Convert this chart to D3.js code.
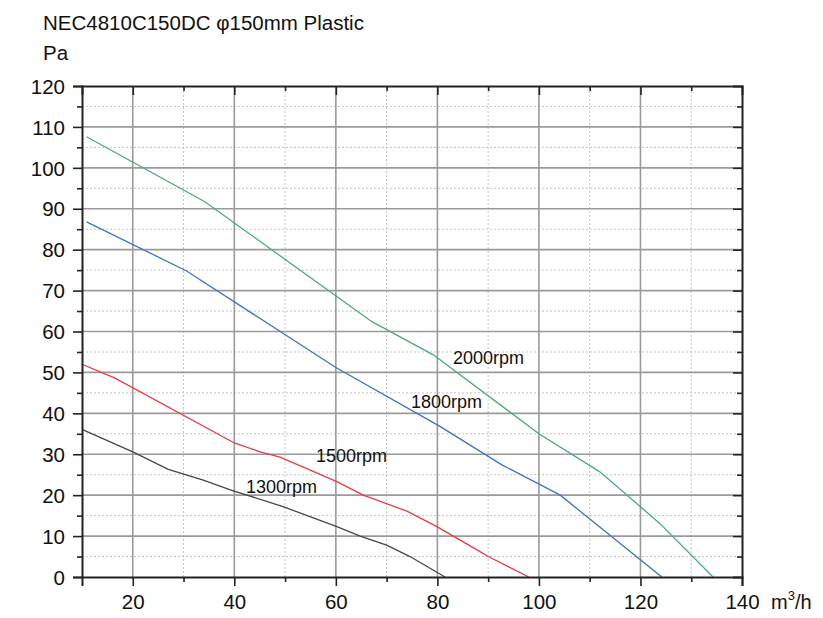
<!DOCTYPE html>
<html><head><meta charset="utf-8">
<script src="https://cdn.jsdelivr.net/npm/d3@7"></script>
<style>body{margin:0;background:#fff}svg{display:block;font-family:"Liberation Sans",Arial,sans-serif}</style>
</head><body><svg id="c" width="823" height="618"></svg>
<script>
const title = "NEC4810C150DC φ150mm Plastic";
const yUnit = "Pa";
const xTicks = [20, 40, 60, 80, 100, 120, 140];
const yTicks = [0, 10, 20, 30, 40, 50, 60, 70, 80, 90, 100, 110, 120];
const seriesNames = ["2000rpm", "1800rpm", "1500rpm", "1300rpm"];
const flow2000 = [10.9, 34.2, 67.1, 79.2, 100, 112, 123.8, 134.3];
const press2000 = [107.6, 91.7, 62.4, 54.3, 35, 25.7, 13.1, 0];
const flow1800 = [10.9, 30.6, 60, 80.5, 92.7, 104.2, 124.2];
const press1800 = [86.8, 74.8, 51.2, 36.8, 27.4, 20, 0];
const flow1500 = [10, 16.5, 40.1, 45.1, 49, 60.2, 65.4, 74, 79.9, 88.4, 90, 98];
const press1500 = [52, 48.6, 32.7, 30.6, 29.3, 23.3, 20, 16.1, 12.3, 6.2, 5, 0];
const flow1300 = [10, 20, 27, 33.9, 39.2, 49.6, 60.2, 64.8, 70, 74.6, 81.5];
const press1300 = [36.1, 30.6, 26.3, 23.7, 21.3, 17.2, 12.3, 10, 7.8, 5, 0];
const colors = ["#4aac78", "#3b74c6", "#ec3a45", "#464646"];
const labelPos = [[453, 364], [411, 408], [316, 462], [246, 493]];

const svg = d3.select("#c");
const x = d3.scaleLinear().domain([10, 140]).range([82, 742]);
const y = d3.scaleLinear().domain([0, 120]).range([577, 86]);

// grid
const g = svg.append("g");
const xMinor = d3.range(30, 140, 20);
const yMinor = d3.range(5, 120, 10);
g.selectAll(".vm").data(xMinor).join("line")
  .attr("x1", d => x(d)).attr("x2", d => x(d)).attr("y1", y(0)).attr("y2", y(120))
  .attr("stroke", "#c4c4c4").attr("stroke-width", 1).attr("stroke-dasharray", "2,2");
g.selectAll(".hm").data(yMinor).join("line")
  .attr("y1", d => y(d)).attr("y2", d => y(d)).attr("x1", x(10)).attr("x2", x(140))
  .attr("stroke", "#c4c4c4").attr("stroke-width", 1).attr("stroke-dasharray", "2,2");
g.selectAll(".vM").data(xTicks.filter(d => d < 140)).join("line")
  .attr("x1", d => x(d)).attr("x2", d => x(d)).attr("y1", y(0)).attr("y2", y(120))
  .attr("stroke", "#9a9a9a").attr("stroke-width", 1.6);
g.selectAll(".hM").data(yTicks.filter(d => d > 0 && d < 120)).join("line")
  .attr("y1", d => y(d)).attr("y2", d => y(d)).attr("x1", x(10)).attr("x2", x(140))
  .attr("stroke", "#9a9a9a").attr("stroke-width", 1.6);

// curves
const flows = [flow2000, flow1800, flow1500, flow1300];
const press = [press2000, press1800, press1500, press1300];
const line = d3.line().x(d => x(d[0])).y(d => y(d[1]));
seriesNames.forEach((n, i) => {
  const pts = flows[i].map((f, j) => [f, press[i][j]]);
  svg.append("path").attr("d", line(pts)).attr("fill", "none")
    .attr("stroke", colors[i]).attr("stroke-width", 1.3);
  svg.append("text").attr("x", labelPos[i][0]).attr("y", labelPos[i][1])
    .attr("font-size", 18).attr("fill", "#111").text(n);
});

// axes
const fs = 20.5;
const allX = d3.range(10, 141, 10);
const allY = d3.range(0, 121, 5);
const axB = svg.append("g").attr("transform", `translate(0,${y(0)})`)
  .call(d3.axisBottom(x).tickValues(allX.filter(d => d > 10)).tickSize(9).tickFormat(d => xTicks.includes(d) ? d : ""));
const axL = svg.append("g").attr("transform", `translate(${x(10)},0)`)
  .call(d3.axisLeft(y).tickValues(allY).tickSize(9).tickPadding(8).tickFormat(d => yTicks.includes(d) ? d : ""));
const axT = svg.append("g").attr("transform", `translate(0,${y(120)})`)
  .call(d3.axisBottom(x).tickValues(allX.filter(d => d > 10 && d < 140)).tickSize(9).tickFormat(""));
const axR = svg.append("g").attr("transform", `translate(${x(140)},0)`)
  .call(d3.axisLeft(y).tickValues(allY.filter(d => d > 0 && d < 120)).tickSize(9).tickFormat(""));
[axB, axL, axT, axR].forEach(a => {
  a.select(".domain").attr("stroke", "#222").attr("stroke-width", 2);
  a.selectAll(".tick line").attr("stroke", "#222").attr("stroke-width", 1.6);
  a.selectAll("text").attr("font-size", fs).attr("font-family", "Liberation Sans, Arial, sans-serif").attr("fill", "#111");
});
axB.selectAll(".tick").filter(d => !xTicks.includes(d)).select("line").attr("y2", 5);
axT.selectAll(".tick").filter(d => !xTicks.includes(d)).select("line").attr("y2", 5);
axL.selectAll(".tick").filter(d => !yTicks.includes(d)).select("line").attr("x2", -5);
axR.selectAll(".tick").filter(d => !yTicks.includes(d)).select("line").attr("x2", -5);
axB.selectAll("text").attr("dy", null).attr("y", 32);
axL.selectAll("text").attr("dy", "0.35em");

svg.append("text").attr("x", 43).attr("y", 30).attr("font-size", 20.5).attr("fill", "#111").text(title);
svg.append("text").attr("x", 43).attr("y", 60).attr("font-size", 20.5).attr("fill", "#111").text(yUnit);
const u = svg.append("text").attr("x", 771).attr("y", 609).attr("font-size", 20).attr("fill", "#111");
u.append("tspan").text("m");
u.append("tspan").attr("font-size", 13).attr("dy", -9).text("3");
u.append("tspan").attr("dy", 9).text("/h");
</script></body></html>
